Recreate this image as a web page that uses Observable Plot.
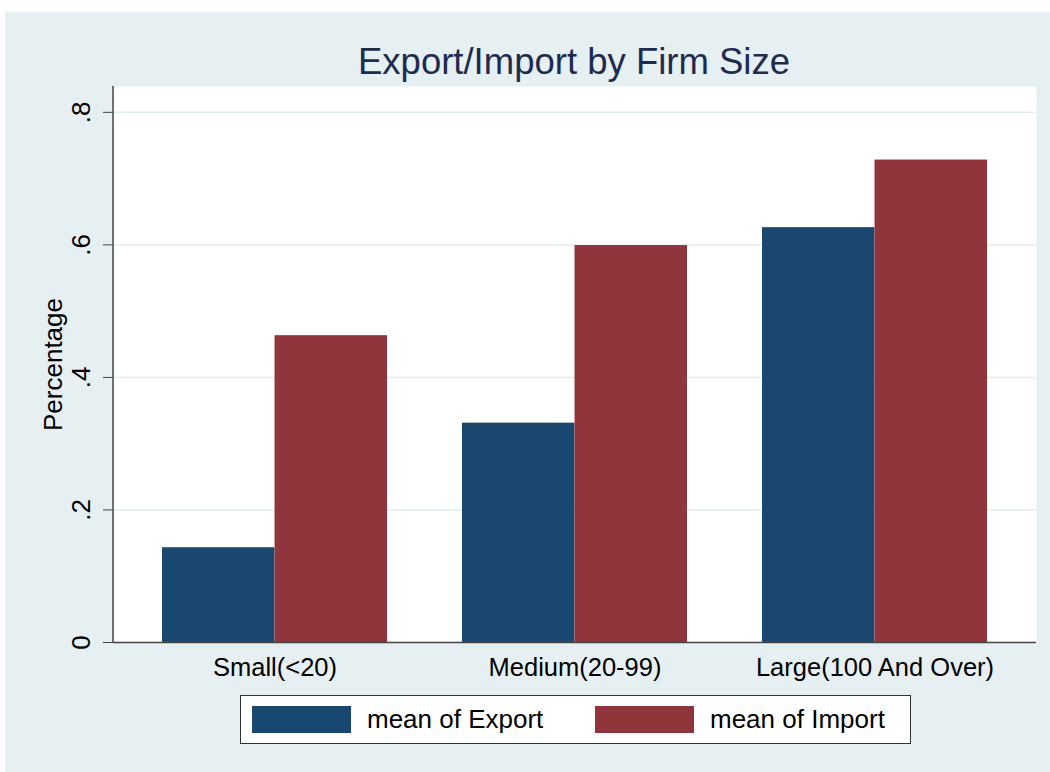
<!DOCTYPE html>
<html>
<head>
<meta charset="utf-8">
<script src="https://cdn.jsdelivr.net/npm/d3@7"></script>
<script src="https://cdn.jsdelivr.net/npm/@observablehq/plot@0.6"></script>
<style>
  html, body { margin: 0; padding: 0; background: #ffffff; width: 1050px; height: 772px; overflow: hidden; }
  body { font-family: "Liberation Sans", Arial, Helvetica, sans-serif; }
  #bg { position: absolute; left: 5px; top: 12px; width: 1045px; height: 760px; background: #e6eff1; }
  #title { position: absolute; left: 274px; width: 600px; top: 41px; text-align: center; font-size: 36.5px; line-height: 42px; color: #1e2b50; white-space: nowrap; }
  #chart { position: absolute; left: 5px; top: 76px; }
  #legend { position: absolute; left: 240px; top: 695px; width: 671px; height: 49px; background: #ffffff; border: 1.5px solid #333; box-sizing: border-box; }
  .sw { position: absolute; top: 10px; width: 99px; height: 27px; }
  .lt { position: absolute; top: 8px; font-size: 26px; line-height: 30px; color: #000; white-space: nowrap; }
</style>
</head>
<body>
<div id="bg"></div>
<div id="title"></div>
<div id="chart"></div>
<div id="legend"></div>
<script>
const titleText = "Export/Import by Firm Size";
const yLabel = "Percentage";
const categories = ["Small(<20)", "Medium(20-99)", "Large(100 And Over)"];
const seriesNames = ["mean of Export", "mean of Import"];
const exportMeans = [0.143, 0.331, 0.626];
const importMeans = [0.463, 0.599, 0.728];
const yTicks = [0, 0.2, 0.4, 0.6, 0.8];
const seriesColors = ["#1a476f", "#90353b"];

document.getElementById("title").textContent = titleText;

const rows = [];
categories.forEach((c, i) => {
  rows.push({category: c, series: seriesNames[0], value: exportMeans[i]});
  rows.push({category: c, series: seriesNames[1], value: importMeans[i]});
});

const W = 1045, H = 614;
const mL = 108, mR = 14, mT = 10, mB = 48;
const padInner = 0.25, padOuter = 0.163;
const bw = d3.scaleBand().domain(categories).range([0, W - mL - mR])
  .paddingInner(padInner).paddingOuter(padOuter).bandwidth();

const fmt = d => d === 0 ? "0" : String(d).replace(/^0/, "");

const chart = Plot.plot({
  width: W, height: H,
  marginLeft: mL, marginRight: mR, marginTop: mT, marginBottom: mB,
  style: {background: "transparent", fontFamily: "'Liberation Sans', Arial, sans-serif", color: "#000"},
  x: {domain: categories, paddingInner: padInner, paddingOuter: padOuter, label: null},
  y: {domain: [0, 0.839], label: null},
  marks: [
    Plot.frame({fill: "#ffffff", stroke: null}),
    Plot.gridY(yTicks.filter(d => d > 0), {stroke: "#e3edf0", strokeOpacity: 1, strokeWidth: 1.5}),
    Plot.rectY(rows.filter(r => r.series === seriesNames[0]), {x: "category", y: "value", fill: seriesColors[0], insetRight: bw / 2}),
    Plot.rectY(rows.filter(r => r.series === seriesNames[1]), {x: "category", y: "value", fill: seriesColors[1], insetLeft: bw / 2}),
    Plot.ruleY([0], {stroke: "#444", strokeWidth: 1.5}),
    Plot.axisX({tickSize: 0, tickPadding: 15, fontSize: 25.5, label: null}),
    Plot.axisY(yTicks, {tickFormat: fmt, tickRotate: -90, tickSize: 10, tickPadding: 14, fontSize: 26, stroke: "#444",
      label: yLabel, labelAnchor: "center", labelArrow: "none", labelOffset: 70})
  ]
});

// left axis line along the plot frame, from the y scale
const ys = chart.scale("y");
const xs = chart.scale("x");
d3.select(chart).append("line")
  .attr("x1", xs.range[0]).attr("x2", xs.range[0])
  .attr("y1", ys.range[0]).attr("y2", ys.range[1])
  .attr("stroke", "#444").attr("stroke-width", 1.5);

document.getElementById("chart").appendChild(chart);

// legend
const lg = document.getElementById("legend");
const swX = [11, 354];
const txX = [126, 469];
seriesNames.forEach((s, i) => {
  const sw = document.createElement("div");
  sw.className = "sw"; sw.style.left = swX[i] + "px"; sw.style.background = seriesColors[i];
  lg.appendChild(sw);
  const t = document.createElement("div");
  t.className = "lt"; t.style.left = txX[i] + "px"; t.textContent = s;
  lg.appendChild(t);
});
</script>
</body>
</html>
